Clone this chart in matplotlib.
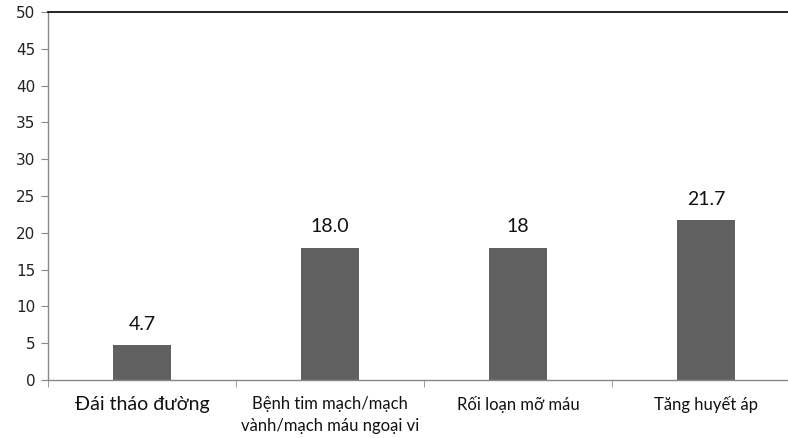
import matplotlib.pyplot as plt

categories = ['Đái tháo đường', 'Bệnh tim mạch/mạch\nvành/mạch máu ngoại vi',
              'Rối loạn mỡ máu', 'Tăng huyết áp']
values = [4.7, 18.0, 18, 21.7]
value_labels = ['4.7', '18.0', '18', '21.7']
yticks = list(range(0, 55, 5))

fig = plt.figure(figsize=(7.88, 4.38), dpi=100)
ax = fig.add_axes([48/788, 58/438, 752/788, 368/438])

x = list(range(len(categories)))
ax.bar(x, values, width=0.31, color='#606060', zorder=2)
for xi, v, s in zip(x, values, value_labels):
    ax.annotate(s, (xi, v), xytext=(0, 9), textcoords='offset points',
                ha='center', va='bottom', fontsize=14, family='Lato', color='#111111')

ax.set_xlim(-0.5, 3.5)
ax.set_ylim(0, 50)
ax.set_yticks(yticks)
ax.tick_params(axis='y', labelsize=11, length=5, color='#888888', labelcolor='#222222', pad=4)

# category labels without ticks, separator ticks at the category edges
ax.set_xticks(x)
ax.set_xticklabels([])
ax.set_xticks([-0.5, 0.5, 1.5, 2.5, 3.5], minor=True)
ax.tick_params(axis='x', which='major', length=0)
ax.tick_params(axis='x', which='minor', length=5, color='#888888')
sizes = [14, 12, 12, 12]
for xi, lab, fs in zip(x, categories, sizes):
    ax.text(xi, -2.2, lab, ha='center', va='top', fontsize=fs, family='Lato',
            color='#111111', linespacing=1.45)

ax.spines['right'].set_visible(False)
ax.spines['top'].set_color('black')
ax.spines['top'].set_linewidth(1.2)
for s in ('left', 'bottom'):
    ax.spines[s].set_color('#888888')
    ax.spines[s].set_linewidth(1.0)

fig.savefig('out.png', dpi=100)
